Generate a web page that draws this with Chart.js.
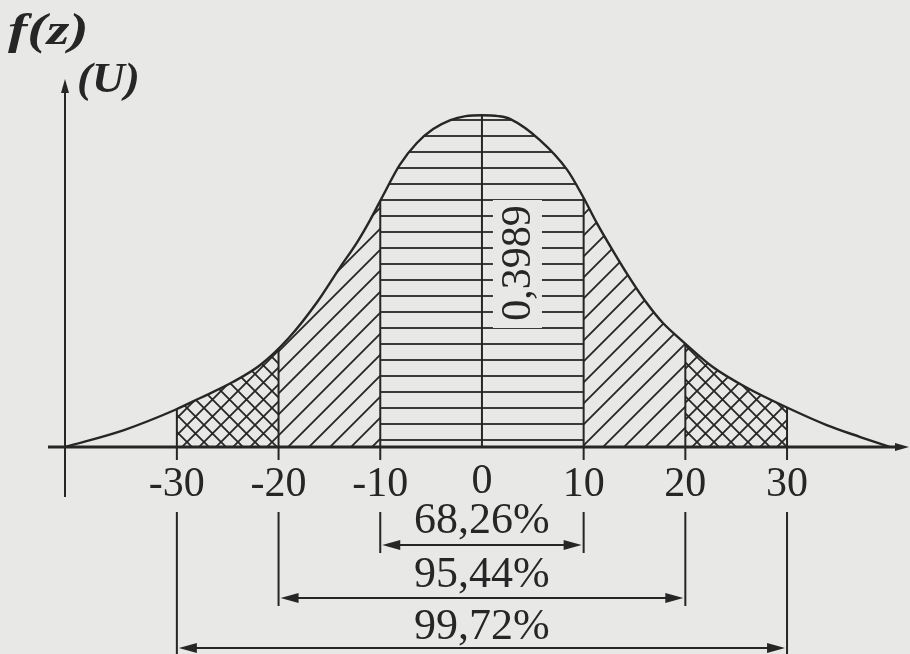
<!DOCTYPE html>
<html>
<head>
<meta charset="utf-8">
<script src="https://cdn.jsdelivr.net/npm/chart.js@4.4.1/dist/chart.umd.min.js"></script>
<style>
  html, body { margin: 0; padding: 0; background: #e8e8e6; }
  #wrap { width: 910px; height: 654px; position: relative; }
</style>
</head>
<body>
<div id="wrap"><canvas id="normalChart"></canvas></div>
<script>
// curve heights
const curveX = [-41, -35.2, -30.2, -27.7, -24.5, -21.8, -19, -16.2, -14, -12.2, -11, -9.7, -8.1, -6.4, -4.8, -3.1, -1.6, 0,
  1.6, 2.8, 5.7, 8.4, 9.9, 11.3, 12.9, 14.6, 16.2, 17.8, 19.6, 22.7, 26.1, 30.1, 33.9, 37.2, 40.1];
const curveY = [0, 0.0204, 0.0445, 0.0589, 0.0781, 0.0986, 0.131, 0.1743, 0.2151, 0.2476, 0.2728, 0.3029, 0.3389, 0.3654, 0.3822, 0.393, 0.3978, 0.3989,
  0.3978, 0.3942, 0.369, 0.3329, 0.3017, 0.2692, 0.2356, 0.2019, 0.1731, 0.149, 0.1286, 0.0962, 0.0709, 0.0469, 0.0264, 0.012, 0];
const tickValues = [-30, -20, -10, 0, 10, 20, 30];
const tickLabels = ['-30', '-20', '-10', '0', '10', '20', '30'];
const bands = [[-10, 10], [-20, 20], [-30, 30]];
const bandLabels = ['68,26%', '95,44%', '99,72%'];
const peakLabel = '0,3989';

const INK = '#262626';
const PAPER = '#e8e8e6';
const SERIF = '"Liberation Serif", "DejaVu Serif", serif';

function makePattern(size, draw) {
  const c = document.createElement('canvas');
  c.width = size;
  c.height = size;
  const g = c.getContext('2d');
  g.strokeStyle = INK;
  g.lineWidth = 1.8;
  draw(g, size);
  return g.createPattern(c, 'repeat');
}

const hatchH = makePattern(16, (g, s) => {
  g.beginPath(); g.moveTo(0, 8); g.lineTo(s, 8); g.stroke();
});
const hatchD = makePattern(21, (g, s) => {
  g.beginPath();
  g.moveTo(-2, s + 2); g.lineTo(s + 2, -2);
  g.moveTo(-3, 3); g.lineTo(3, -3);
  g.moveTo(s - 3, s + 3); g.lineTo(s + 3, s - 3);
  g.stroke();
});
const hatchX = makePattern(17, (g, s) => {
  g.beginPath();
  g.moveTo(-2, s + 2); g.lineTo(s + 2, -2);
  g.moveTo(-3, 3); g.lineTo(3, -3);
  g.moveTo(s - 3, s + 3); g.lineTo(s + 3, s - 3);
  g.moveTo(-2, -2); g.lineTo(s + 2, s + 2);
  g.moveTo(-3, s - 3); g.lineTo(3, s + 3);
  g.moveTo(s - 3, -3); g.lineTo(s + 3, 3);
  g.stroke();
});

// area under the drawn curve, using the line's own control points
function curveArea(ctx, pts, yBase) {
  ctx.beginPath();
  ctx.moveTo(pts[0].x, yBase);
  ctx.lineTo(pts[0].x, pts[0].y);
  for (let i = 1; i < pts.length; i++) {
    const p = pts[i - 1], c = pts[i];
    ctx.bezierCurveTo(p.cp2x, p.cp2y, c.cp1x, c.cp1y, c.x, c.y);
  }
  ctx.lineTo(pts[pts.length - 1].x, yBase);
  ctx.closePath();
}

function arrowHead(ctx, x, y, dir, len, half) {
  ctx.beginPath();
  ctx.moveTo(x, y);
  ctx.lineTo(x - dir * len, y - half);
  ctx.lineTo(x - dir * len, y + half);
  ctx.closePath();
  ctx.fill();
}

const hatchPlugin = {
  id: 'hatch',
  beforeDatasetsDraw(chart) {
    const ctx = chart.ctx;
    const xs = chart.scales.x, ys = chart.scales.y;
    const pts = chart.getDatasetMeta(0).data;
    const yBase = ys.getPixelForValue(0);
    const top = chart.chartArea.top;
    const regions = [
      [bands[0][0], bands[0][1], hatchH],
      [bands[1][0], bands[0][0], hatchD],
      [bands[0][1], bands[1][1], hatchD],
      [bands[2][0], bands[1][0], hatchX],
      [bands[1][1], bands[2][1], hatchX]
    ];
    ctx.save();
    curveArea(ctx, pts, yBase);
    ctx.clip();
    regions.forEach(([a, b, pat]) => {
      const x1 = xs.getPixelForValue(a), x2 = xs.getPixelForValue(b);
      ctx.fillStyle = pat;
      ctx.fillRect(x1, top, x2 - x1, yBase - top);
    });

    // label box over the stripes
    const x0 = xs.getPixelForValue(0);
    ctx.fillStyle = PAPER;
    ctx.fillRect(x0 + 11, 200, 49, 128);

    // boundary lines up to the curve
    ctx.strokeStyle = INK;
    ctx.lineWidth = 2;
    tickValues.forEach(v => {
      const px = xs.getPixelForValue(v);
      ctx.beginPath();
      ctx.moveTo(px, top);
      ctx.lineTo(px, yBase);
      ctx.stroke();
    });
    ctx.restore();

    ctx.save();
    ctx.translate(x0 + 37, 263);
    ctx.rotate(-Math.PI / 2);
    ctx.fillStyle = INK;
    ctx.font = '42px ' + SERIF;
    ctx.textAlign = 'center';
    ctx.textBaseline = 'middle';
    ctx.fillText(peakLabel, 0, 0);
    ctx.restore();
  },
  afterDatasetsDraw(chart) {
    const ctx = chart.ctx;
    const xs = chart.scales.x, ys = chart.scales.y;
    const yBase = ys.getPixelForValue(0);
    const left = chart.chartArea.left;
    const top = chart.chartArea.top;
    ctx.save();
    ctx.strokeStyle = INK;
    ctx.fillStyle = INK;

    // small ticks below the axis
    ctx.lineWidth = 2;
    tickValues.forEach(v => {
      if (v === 0) return;
      const px = xs.getPixelForValue(v);
      ctx.beginPath();
      ctx.moveTo(px, yBase);
      ctx.lineTo(px, yBase + 13);
      ctx.stroke();
    });

    // axes
    ctx.beginPath();
    ctx.moveTo(left, yBase + 50);
    ctx.lineTo(left, top + 8);
    ctx.stroke();
    ctx.beginPath();
    ctx.moveTo(left, top - 2);
    ctx.lineTo(left - 4, top + 12);
    ctx.lineTo(left + 4, top + 12);
    ctx.closePath();
    ctx.fill();
    ctx.lineWidth = 3;
    ctx.beginPath();
    ctx.moveTo(48, yBase);
    ctx.lineTo(chart.chartArea.right - 4, yBase);
    ctx.stroke();
    arrowHead(ctx, chart.chartArea.right + 4, yBase, 1, 14, 4);

    // axis titles
    ctx.textAlign = 'left';
    ctx.textBaseline = 'alphabetic';
    ctx.save();
    ctx.translate(8, 44);
    ctx.scale(1.32, 1);
    ctx.font = 'italic bold 44px ' + SERIF;
    ctx.fillText('f(z)', 0, 0);
    ctx.restore();
    ctx.save();
    ctx.translate(77, 92);
    ctx.scale(1.08, 1);
    ctx.font = 'italic bold 42px ' + SERIF;
    ctx.fillText('(U)', 0, 0);
    ctx.restore();

    // tick labels
    ctx.font = '42px ' + SERIF;
    ctx.textAlign = 'center';
    ctx.textBaseline = 'middle';
    tickValues.forEach((v, i) => {
      ctx.fillText(tickLabels[i], xs.getPixelForValue(v), yBase + (v === 0 ? 35 : 38));
    });

    // percentage brackets
    const lineEnd = [553, 606, 654];
    const arrowY = [545, 598, 648];
    const textY = [521, 575, 627];
    ctx.font = '44px ' + SERIF;
    bands.forEach(([a, b], i) => {
      const x1 = xs.getPixelForValue(a), x2 = xs.getPixelForValue(b);
      ctx.lineWidth = 2;
      ctx.beginPath();
      ctx.moveTo(x1, 512); ctx.lineTo(x1, lineEnd[i]);
      ctx.moveTo(x2, 512); ctx.lineTo(x2, lineEnd[i]);
      ctx.stroke();
      ctx.lineWidth = 2.2;
      ctx.beginPath();
      ctx.moveTo(x1 + 14, arrowY[i]); ctx.lineTo(x2 - 14, arrowY[i]);
      ctx.stroke();
      arrowHead(ctx, x1 + 2, arrowY[i], -1, 18, 5);
      arrowHead(ctx, x2 - 2, arrowY[i], 1, 18, 5);
      ctx.fillText(bandLabels[i], (x1 + x2) / 2, textY[i]);
    });
    ctx.restore();
  }
};

const normalChart = new Chart(document.getElementById('normalChart'), {
  type: 'line',
  data: {
    datasets: [{
      data: curveX.map((x, i) => ({ x: x, y: curveY[i] })),
      borderColor: INK,
      borderWidth: 2.4,
      pointRadius: 0,
      fill: false,
      cubicInterpolationMode: 'monotone'
    }]
  },
  options: {
    responsive: true,
    maintainAspectRatio: false,
    animation: false,
    layout: { padding: { left: 65, right: 5, top: 81, bottom: 207 } },
    scales: {
      x: { type: 'linear', min: -41, max: 41.6, display: false },
      y: { min: 0, max: 0.44, display: false }
    },
    plugins: { legend: { display: false }, tooltip: { enabled: false } }
  },
  plugins: [hatchPlugin]
});
</script>
</body>
</html>
